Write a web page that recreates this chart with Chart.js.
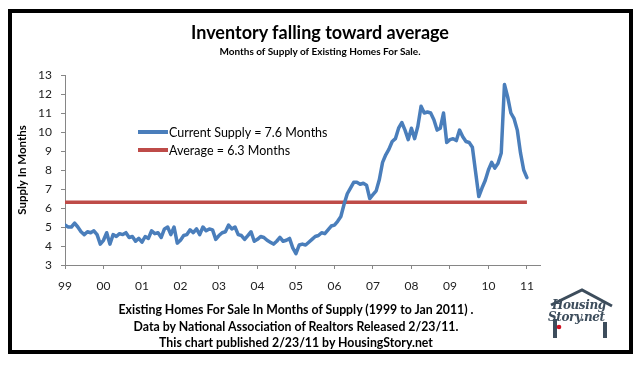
<!DOCTYPE html>
<html>
<head>
<meta charset="utf-8">
<script src="https://cdn.jsdelivr.net/npm/chart.js@4"></script>
<style>
  body { margin: 0; background: #fff; font-family: Lato, "Open Sans", sans-serif; }
  #wrap { position: relative; width: 640px; height: 369px; overflow: hidden; }
  #frame { position: absolute; left: 8px; top: 9px; width: 617px; height: 337px; border: 4px solid #000; }
  canvas { position: absolute; left: 0; top: 0; }
  .txt { position: absolute; left: 0; width: 640px; text-align: center; font-weight: bold; color: #000; white-space: nowrap; }
  #title { top: 21px; font-size: 18px; line-height: 22px; }
  #subtitle { top: 45px; font-size: 10px; line-height: 12px; }
  #footer { left: 0; width: 592px; top: 302px; font-size: 12.3px; line-height: 16.5px; }
  #legend { position: absolute; left: 138px; top: 123px; font-size: 12.5px; color: #000; }
  .row { height: 18px; display: flex; align-items: center; }
  .swatch { width: 30px; height: 4px; margin-right: 1px; }
  #logo { position: absolute; left: 548px; top: 288px; width: 70px; height: 60px; }
  #logo .name { position: absolute; font-family: "DejaVu Serif", serif; font-style: italic; font-weight: bold; font-size: 12px; line-height: 14px; letter-spacing: -0.4px; color: #3d4d5c; white-space: nowrap; }
</style>
</head>
<body>
<div id="wrap">
  <canvas id="chart" width="640" height="369"></canvas>
  <div id="frame"></div>
  <div id="title" class="txt">Inventory falling toward average</div>
  <div id="subtitle" class="txt">Months of Supply of Existing Homes For Sale.</div>
  <div id="legend"></div>
  <div id="footer" class="txt">Existing Homes For Sale In Months of Supply (1999 to Jan 2011) .<br>Data by National Association of Realtors Released 2/23/11.<br>This chart published 2/23/11 by HousingStory.net</div>
  <div id="logo">
    <svg width="70" height="60" style="position:absolute;left:0;top:0">
      <polyline points="3,17 34,2 64,18" fill="none" stroke="#3d4d5c" stroke-width="3"/>
      <line x1="7" y1="31" x2="7" y2="50" stroke="#3d4d5c" stroke-width="4"/>
      <line x1="57" y1="34" x2="57" y2="50" stroke="#3d4d5c" stroke-width="4"/>
      <circle cx="11" cy="39" r="2.3" fill="#d01020"/>
    </svg>
    <span class="name" style="left:4px;top:10px">Housing</span>
    <span class="name" style="left:0px;top:22px">Story.net</span>
  </div>
</div>
<script>
const startYear = 1999;
const yearLabels = ["99", "00", "01", "02", "03", "04", "05", "06", "07", "08", "09", "10", "11"];

// monthly months-of-supply, Jan 1999 .. Jan 2011
const supply = [
  5.1, 5.0, 5.0, 5.2, 5.0, 4.75, 4.6, 4.75, 4.7, 4.8, 4.6, 4.1,
  4.3, 4.7, 4.1, 4.6, 4.5, 4.65, 4.6, 4.7, 4.45, 4.5, 4.25, 4.4,
  4.2, 4.5, 4.4, 4.8, 4.65, 4.7, 4.45, 4.9, 5.0, 4.6, 5.0, 4.15,
  4.3, 4.55, 4.6, 4.85, 4.7, 4.9, 4.6, 5.0, 4.8, 4.9, 4.85, 4.35,
  4.55, 4.7, 4.75, 5.1, 4.9, 5.0, 4.6, 4.55, 4.35, 4.55, 4.75, 4.25,
  4.35, 4.5, 4.45, 4.3, 4.2, 4.1, 4.25, 4.45, 4.25, 4.3, 4.4, 3.9,
  3.6, 4.05, 4.1, 4.05, 4.2, 4.35, 4.5, 4.55, 4.7, 4.65, 4.85, 5.05,
  5.1, 5.3, 5.55, 6.2, 6.75, 7.05, 7.35, 7.35, 7.25, 7.3, 7.2, 6.5,
  6.7, 6.9, 7.5, 8.4, 8.8, 9.1, 9.5, 9.65, 10.2, 10.5, 10.1, 9.6,
  10.2, 9.65, 10.3, 11.35, 11.0, 11.05, 11.0, 10.65, 10.1, 10.2, 11.0, 9.45,
  9.6, 9.65, 9.55, 10.1, 9.75, 9.5, 9.45, 9.2, 7.9, 6.6, 7.05, 7.45,
  8.0, 8.4, 8.1, 8.35, 8.9, 12.5, 11.85, 11.0, 10.7, 10.1, 8.9, 8.0,
  7.6
];
const averageSupply = 6.3;

const seriesNames = ["Current Supply = 7.6 Months", "Average = 6.3 Months"];
const seriesColors = ["#4a7ebb", "#be4b48"];

const supplyPoints = supply.map((v, i) => ({ x: startYear + i / 12, y: v }));
const lastX = startYear + (supply.length - 1) / 12;
const averagePoints = [{ x: startYear, y: averageSupply }, { x: lastX, y: averageSupply }];

const axisGray = "#868686";

const chart = new Chart(document.getElementById("chart"), {
  type: "line",
  data: {
    datasets: [
      {
        label: seriesNames[0],
        data: supplyPoints,
        borderColor: seriesColors[0],
        borderWidth: 3.5,
        pointRadius: 0,
        borderJoinStyle: "round",
        borderCapStyle: "round",
        tension: 0
      },
      {
        label: seriesNames[1],
        data: averagePoints,
        borderColor: seriesColors[1],
        borderWidth: 3.5,
        pointRadius: 0,
        tension: 0
      }
    ]
  },
  options: {
    responsive: false,
    animation: false,
    layout: { padding: { left: 0, top: 75, right: 100, bottom: 0 } },
    plugins: {
      legend: { display: false },
      tooltip: { enabled: false }
    },
    scales: {
      x: {
        type: "linear",
        min: startYear,
        max: startYear + 12.34,
        afterFit: s => { s.height = 104; },
        afterBuildTicks: s => {
          s.ticks = yearLabels.map((_, i) => ({ value: startYear + i }));
        },
        ticks: {
          padding: 10,
          color: "#222",
          font: { family: "Lato", size: 12 },
          maxRotation: 0,
          callback: (v) => yearLabels[Math.round(v) - startYear]
        },
        grid: { drawOnChartArea: false, drawTicks: true, tickLength: 4, color: axisGray },
        border: { color: axisGray, width: 1 }
      },
      y: {
        min: 3,
        max: 13,
        afterFit: s => { s.width = 65; },
        ticks: {
          stepSize: 1,
          padding: 9,
          color: "#222",
          font: { family: "Lato", size: 12 }
        },
        grid: { drawOnChartArea: false, drawTicks: true, tickLength: 4, color: axisGray },
        border: { color: axisGray, width: 1 },
        title: {
          display: true,
          text: "Supply In Months",
          color: "#000",
          font: { family: "Lato", size: 11.5, weight: "bold" },
          padding: { top: 15, bottom: 0 }
        }
      }
    }
  }
});

// legend drawn as html beside the plot, from the dataset settings
const legend = document.getElementById("legend");
chart.data.datasets.forEach(ds => {
  const row = document.createElement("div");
  row.className = "row";
  row.innerHTML = `<span class="swatch" style="background:${ds.borderColor}"></span><span>${ds.label}</span>`;
  legend.appendChild(row);
});
</script>
</body>
</html>
